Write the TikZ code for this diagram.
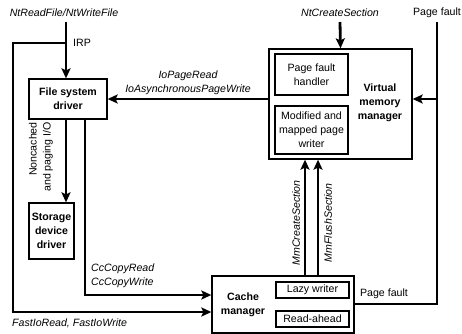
\documentclass[tikz,border=0pt]{standalone}
\usepackage{fontspec}
\setmainfont{Liberation Sans}
\usetikzlibrary{arrows.meta}
\begin{document}
\begin{tikzpicture}[x=1pt,y=-1pt,
  font=\fontsize{10.6}{14}\selectfont,
  box/.style={draw,line width=1.3pt,inner sep=0pt,align=center,font=\fontsize{10.6}{14}\selectfont\bfseries},
  ibox/.style={draw,line width=1.2pt,inner sep=0pt,align=center},
  wire/.style={line width=2.8pt},
  arr/.style={line width=2.8pt,-{Stealth[length=10pt,width=9pt,inset=2pt]}},
  lbl/.style={font=\fontsize{10.6}{14}\selectfont\itshape,inner sep=0pt},
  plain/.style={inner sep=0pt}]
\useasboundingbox (0,0) rectangle (462,333);

% boxes
\node[box,minimum width=78pt,minimum height=40pt] (fsd) at (68,99) {File system\\driver};
\node[box,minimum width=45pt,minimum height=56pt] (sdd) at (51.5,231) {Storage\\device\\driver};
\node[draw,line width=1.3pt,minimum width=143pt,minimum height=110pt,inner sep=0pt] (vmm) at (340.5,104) {};
\node[ibox,minimum width=73pt,minimum height=41pt] (pfh) at (311.5,74.5) {Page fault\\handler};
\node[ibox,minimum width=73pt,minimum height=48pt] (mpw) at (311.5,130) {Modified and\\mapped page\\writer};
\node[plain,align=center,font=\fontsize{10.6}{14}\selectfont\bfseries] (vmmtxt) at (380,103) {Virtual\\memory\\manager};
\node[draw,line width=1.3pt,minimum width=142pt,minimum height=57pt,inner sep=0pt] (cm) at (283,304.5) {};
\node[plain,align=center,font=\fontsize{10.6}{14}\selectfont\bfseries] (cmtxt) at (243,305) {Cache\\manager};
\node[ibox,minimum width=73pt,minimum height=16pt] (lazy) at (312.5,290) {Lazy writer};
\node[ibox,minimum width=73pt,minimum height=16pt] (ra) at (312.5,319) {Read-ahead};

% labels
\node[lbl] (ntrw) at (64,13) {NtReadFile/NtWriteFile};
\node[plain,anchor=west] (irp) at (73,43) {IRP};
\node[lbl] (ntcs) at (340,13) {NtCreateSection};
\node[plain] (pf1) at (437,13) {Page fault};
\node[plain] (pf2) at (384,294) {Page fault};
\node[lbl,align=center] (iop) at (188,83) {IoPageRead\\IoAsynchronousPageWrite};
\node[plain,rotate=90,align=right] (nonc) at (41,157) {Noncached\\and paging I/O};
\node[lbl,align=left,anchor=west] (ccc) at (91,276) {CcCopyRead\\CcCopyWrite};
\node[lbl,anchor=west] (fio) at (12,323) {FastIoRead, FastIoWrite};
\node[lbl,rotate=90] (mmcs) at (296,223) {MmCreateSection};
\node[lbl,rotate=90] (mmfs) at (328,223) {MmFlushSection};

% coordinates for free ends
\coordinate (irptop) at (66,22);
\coordinate (irpsplit) at (66,43);
\coordinate (leftx) at (13,43);
\coordinate (cctop) at (85,119);
\coordinate (csup) at (340,22);
\coordinate (pftop) at (437,22);
\coordinate (pfbot) at (437,304);
\coordinate (pfmid) at (437,99);
\coordinate (arrA) at (305,276);
\coordinate (arrB) at (318,276);

% connectors
\draw[arr] (irptop) -- (irptop |- fsd.north);
\draw[wire] (irpsplit) -- (leftx) -- (leftx |- 0,312) coordinate (fiocorner);
\draw[arr] ([xshift=-1.4pt]fiocorner) -- (cm.west |- fiocorner);
\draw[arr] (irptop |- fsd.south) -- (irptop |- sdd.north);
\draw[wire] (cctop) -- (cctop |- 0,295) coordinate (cccorner);
\draw[arr] ([xshift=-1.4pt]cccorner) -- (cm.west |- cccorner);
\draw[arr] (vmm.west |- 0,99) -- (fsd.east |- 0,99);
\draw[arr] (csup) -- (vmm.north);
\draw[wire] (pftop) -- (pfbot) -- (cm.east |- pfbot);
\draw[arr] (pfmid) -- (vmm.east |- pfmid);
\draw[arr] (arrA) -- (arrA |- vmm.south);
\draw[arr] (arrB) -- (arrB |- vmm.south);
\end{tikzpicture}
\end{document}
